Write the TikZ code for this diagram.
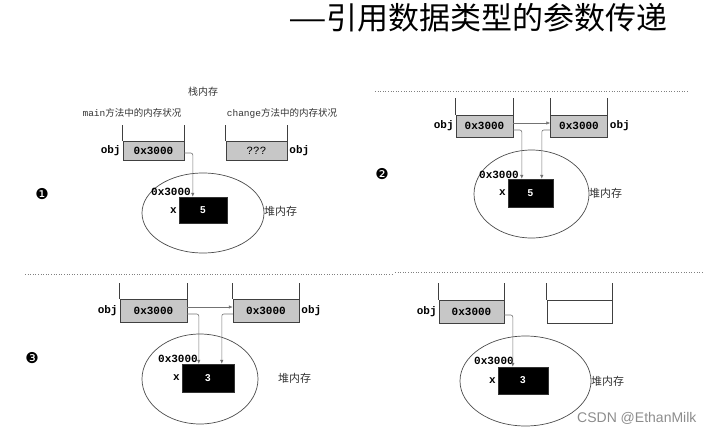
\documentclass[tikz,border=0pt]{standalone}
\usepackage{fontspec}
\setmainfont{Noto Sans CJK SC}
\setmonofont{Liberation Mono}
\newfontfamily\lsans{Liberation Sans}
\newfontfamily\djv{DejaVu Sans}
\usetikzlibrary{calc,arrows.meta}
\begin{document}
\begin{tikzpicture}[x=1pt,y=-1pt,
  cell/.style={draw=black!75,fill=black!22,inner sep=0pt,font=\ttfamily\bfseries\fontsize{11}{12}\selectfont},
  ecell/.style={draw=black!75,fill=white,inner sep=0pt},
  wall/.style={draw=black!75,line width=0.7pt},
  lbl/.style={inner sep=0pt,font=\ttfamily\bfseries\fontsize{11}{12}\selectfont},
  captxt/.style={inner sep=0pt,font=\fontsize{9.5}{11}\selectfont,text=black!80},
  heap/.style={draw=black!70,line width=0.7pt},
  val/.style={fill=black,draw=black!80,inner sep=0pt,text=white,font=\lsans\bfseries\fontsize{10}{12}\selectfont},
  heaplbl/.style={inner sep=0pt,font=\fontsize{11}{12}\selectfont,text=black!80},
  conn/.style={draw=black!55,line width=0.6pt,rounded corners=2pt,-{Latex[length=4pt,width=3.5pt]}},
  dotline/.style={draw=black!50,dotted,line width=0.6pt},
  num/.style={inner sep=0pt,font=\djv\fontsize{15}{17}\selectfont}
]
\useasboundingbox (0,0) rectangle (712,434);

% title
\node[inner sep=0pt,anchor=east,font=\fontsize{31}{34}\selectfont] (title) at (668,18) {\scalebox{1.4}[1]{—}引用数据类型的参数传递};

% dotted separators
\coordinate (d1a) at (375,91); \coordinate (d1b) at (688,91);
\draw[dotline] (d1a) -- (d1b);
\coordinate (d2a) at (25,274); \coordinate (d2b) at (393,274);
\draw[dotline] (d2a) -- (d2b);
\coordinate (d3a) at (395,272); \coordinate (d3b) at (702,272);
\draw[dotline] (d3a) -- (d3b);

% ===== Panel 1 =====
\node[captxt,font=\fontsize{10}{12}\selectfont] (stk) at (203,92) {栈内存};
\node[captxt] (mcap) at (132,113) {{\ttfamily main}方法中的内存状况};
\node[captxt] (ccap) at (282,113) {{\ttfamily change}方法中的内存状况};
\node[cell,minimum width=61pt,minimum height=19pt] (c1) at (153.5,150.5) {0x3000};
\node[cell,minimum width=61pt,minimum height=19pt,font=\ttfamily\fontsize{11}{12}\selectfont] (c2) at (256.5,150.5) {???};
\draw[wall] (c1.north west) -- ++(0,-16);
\draw[wall] (c1.north east) -- ++(0,-16);
\draw[wall] (c2.north west) -- ++(0,-16);
\draw[wall] (c2.north east) -- ++(0,-16);
\node[lbl,anchor=east] (o1) at ($(c1.west)+(-2,0)$) {obj};
\node[lbl,anchor=west] (o2) at ($(c2.east)+(2,0)$) {obj};
\draw[heap] (203,213) ellipse [x radius=61pt,y radius=40pt];
\node[val,minimum width=48pt,minimum height=26pt] (r1) at (203,210) {5};
\node[lbl,anchor=east] (a1) at (191,192) {0x3000};
\node[lbl,anchor=east] (x1) at (177,211) {x};
\node[heaplbl,anchor=west] (h1) at (264,211) {堆内存};
\draw[conn] ($(c1.east)+(0,2.5)$) -| ($(r1.north west)+(14,0)$);
\node[num] (n1) at (42,194) {❶};

% ===== Panel 2 =====
\node[cell,minimum width=57pt,minimum height=22pt] (e1) at (484.5,126) {0x3000};
\node[cell,minimum width=57pt,minimum height=22pt] (e2) at (579,126) {0x3000};
\draw[wall] (e1.north west) -- ++(0,-17);
\draw[wall] (e1.north east) -- ++(0,-17);
\draw[wall] (e2.north west) -- ++(0,-17);
\draw[wall] (e2.north east) -- ++(0,-17);
\node[lbl,anchor=east] (o3) at ($(e1.west)+(-2,0)$) {obj};
\node[lbl,anchor=west] (o4) at ($(e2.east)+(2,0)$) {obj};
\draw[heap] (531.5,194) ellipse [x radius=57.5pt,y radius=44pt];
\node[val,minimum width=45pt,minimum height=28pt] (r2) at (530.5,193) {5};
\node[lbl,anchor=east] (a2) at (519,175) {0x3000};
\node[lbl,anchor=east] (x2) at (506,193) {x};
\node[heaplbl,anchor=west] (h2) at (589,193) {堆内存};
\draw[conn] ($(e1.east)+(0,-3)$) -- ($(e2.west)+(0,-3)$);
\draw[conn] ($(e1.east)+(0,4)$) -| ($(r2.north west)+(14,0)$);
\draw[conn] ($(e2.west)+(0,4)$) -| ($(r2.north west)+(34,0)$);
\node[num] (n2) at (382,174) {❷};

% ===== Panel 3 =====
\node[cell,minimum width=67pt,minimum height=23pt] (g1) at (153.5,310.5) {0x3000};
\node[cell,minimum width=66pt,minimum height=23pt] (g2) at (266,310.5) {0x3000};
\draw[wall] (g1.north west) -- ++(0,-16);
\draw[wall] (g1.north east) -- ++(0,-16);
\draw[wall] (g2.north west) -- ++(0,-16);
\draw[wall] (g2.north east) -- ++(0,-16);
\node[lbl,anchor=east] (o5) at ($(g1.west)+(-2,0)$) {obj};
\node[lbl,anchor=west] (o6) at ($(g2.east)+(2,0)$) {obj};
\draw[heap] (200,379) ellipse [x radius=58pt,y radius=45pt];
\node[val,minimum width=52pt,minimum height=28pt] (r3) at (208,378) {3};
\node[lbl,anchor=east] (a3) at (198,359) {0x3000};
\node[lbl,anchor=east] (x3) at (180,378) {x};
\node[heaplbl,anchor=west] (h3) at (278,378) {堆内存};
\draw[conn] ($(g1.east)+(0,-3.5)$) -- ($(g2.west)+(0,-3.5)$);
\draw[conn] ($(g1.east)+(0,3.5)$) -| ($(r3.north west)+(17,0)$);
\draw[conn] ($(g2.west)+(0,3.5)$) -| ($(r3.north west)+(40,0)$);
\node[num] (n3) at (32,358) {❸};

% ===== Panel 4 =====
\node[cell,minimum width=65pt,minimum height=23pt] (k1) at (471.5,311.5) {0x3000};
\node[ecell,minimum width=65pt,minimum height=23pt] (k2) at (579.5,311.5) {};
\draw[wall] (k1.north west) -- ++(0,-17);
\draw[wall] (k1.north east) -- ++(0,-17);
\draw[wall] (k2.north west) -- ++(0,-17);
\draw[wall] (k2.north east) -- ++(0,-17);
\node[lbl,anchor=east] (o7) at ($(k1.west)+(-2,0)$) {obj};
\draw[heap] (525.5,381) ellipse [x radius=65.5pt,y radius=45pt];
\node[val,minimum width=50pt,minimum height=27pt] (r4) at (523,380.5) {3};
\node[lbl,anchor=east] (a4) at (514,361) {0x3000};
\node[lbl,anchor=east] (x4) at (496,381) {x};
\node[heaplbl,anchor=west] (h4) at (591,381) {堆内存};
\draw[conn] ($(k1.east)+(0,3.5)$) -| ($(r4.north west)+(15,0)$);

\node[inner sep=0pt,anchor=west,text=black!45,font=\lsans\fontsize{14}{16}\selectfont] (wm) at (577,418) {CSDN @EthanMilk};
\end{tikzpicture}
\end{document}
